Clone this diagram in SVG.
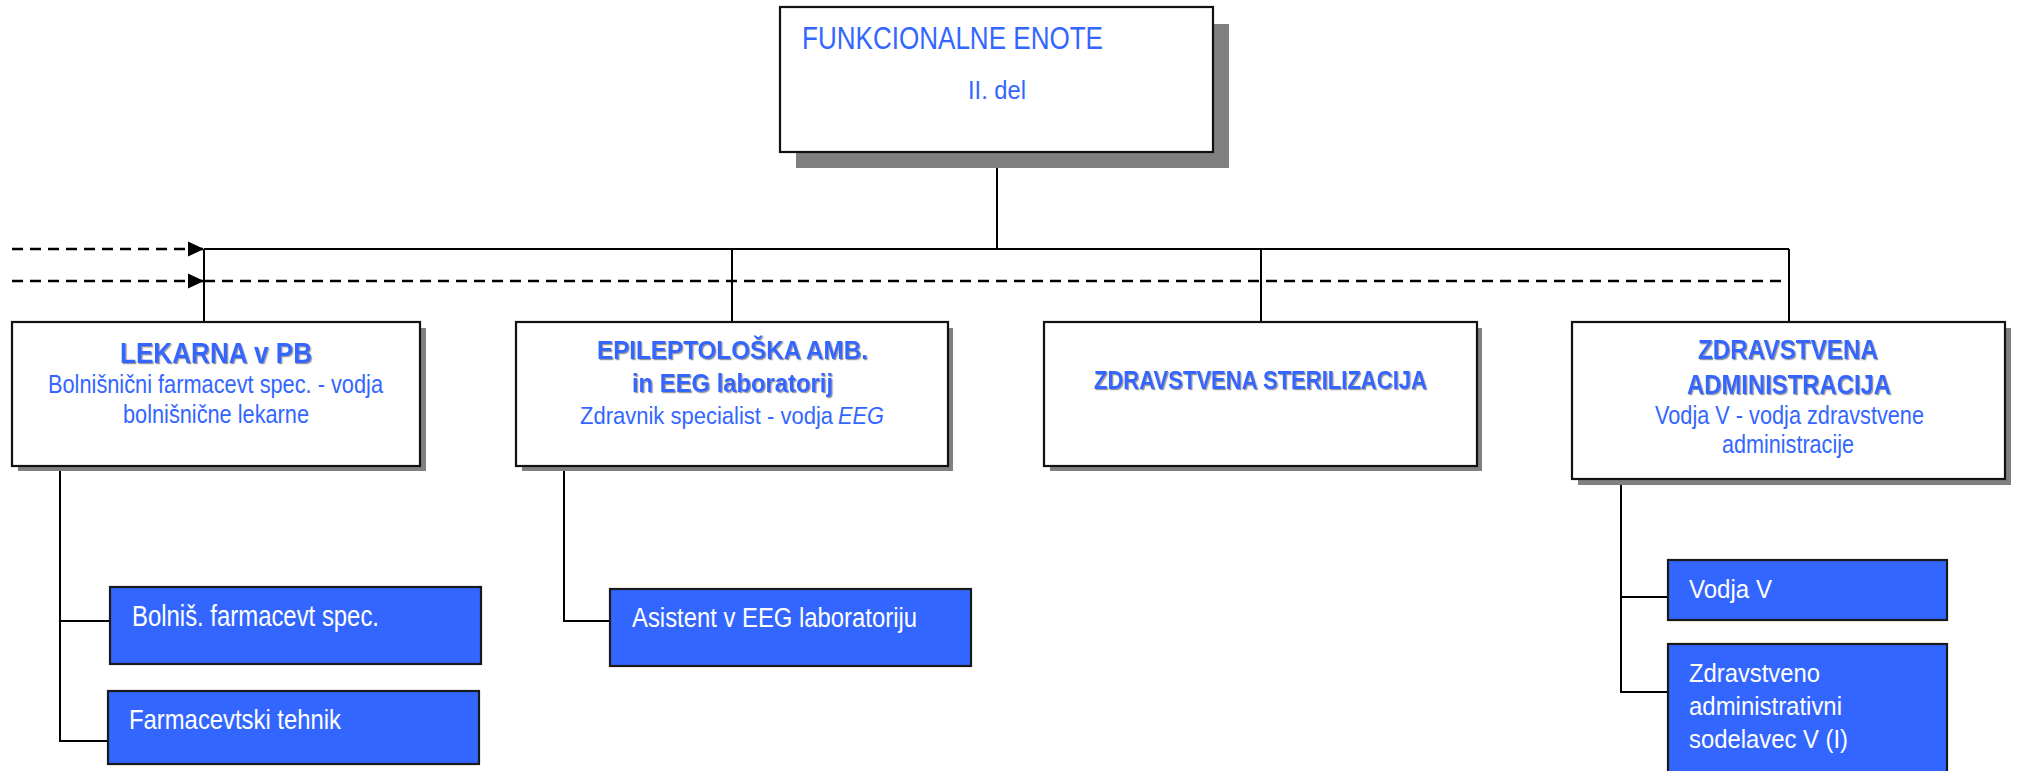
<svg xmlns="http://www.w3.org/2000/svg" width="2018" height="771" viewBox="0 0 2018 771">
<style>
  text { font-family: "Liberation Sans", Arial, sans-serif; }
  .box { fill: #ffffff; stroke: #111111; stroke-width: 2.2; }
  .shadow { fill: #808080; }
  .bbox { fill: #3366ff; stroke: #1a1a1a; stroke-width: 2.2; }
  .ttl { fill: #3366ff; font-weight: bold; filter: url(#ts); }
  .sub { fill: #3366ff; }
  .wt { fill: #ffffff; }
  .ln { stroke: #000000; stroke-width: 2; fill: none; }
  .dash { stroke: #000000; stroke-width: 2.4; fill: none; stroke-dasharray: 11 7; }
</style>
<defs>
  <marker id="arr" markerUnits="userSpaceOnUse" markerWidth="17" markerHeight="16" refX="16" refY="8" orient="auto">
    <path d="M0,0.5 L16,8 L0,15.5 Z" fill="#000000"/>
  </marker>
  <filter id="ts" x="0" y="0" width="1.02" height="1.06">
    <feDropShadow dx="1.2" dy="1.2" stdDeviation="0.2" flood-color="#9a9a9a" flood-opacity="1"/>
  </filter>
</defs>

<g id="connectors">
  <line class="ln" x1="997" y1="152" x2="997" y2="249"/>
  <line class="ln" x1="204" y1="249" x2="1789" y2="249"/>
  <line class="ln" x1="204" y1="249" x2="204" y2="322"/>
  <line class="ln" x1="732" y1="249" x2="732" y2="322"/>
  <line class="ln" x1="1261" y1="249" x2="1261" y2="322"/>
  <line class="ln" x1="1789" y1="249" x2="1789" y2="322"/>
  <line class="dash" x1="204" y1="281" x2="1789" y2="281"/>
  <line class="dash" x1="12" y1="249" x2="204" y2="249" marker-end="url(#arr)"/>
  <line class="dash" x1="12" y1="281" x2="204" y2="281" marker-end="url(#arr)"/>
  <path class="ln" d="M60,466 L60,741 L109,741 M60,621 L109,621"/>
  <path class="ln" d="M564,466 L564,621 L611,621"/>
  <path class="ln" d="M1621,466 L1621,692 L1668,692 M1621,597 L1668,597"/>
</g>

<g id="node-top">
  <rect class="shadow" x="796" y="24" width="433" height="144"/>
  <rect class="box" x="780" y="7" width="433" height="145"/>
  <text class="sub" x="802" y="49" font-size="31" textLength="301" lengthAdjust="spacingAndGlyphs">FUNKCIONALNE ENOTE</text>
  <text class="sub" x="968" y="99" font-size="25" textLength="58" lengthAdjust="spacingAndGlyphs">II. del</text>
</g>

<g id="node-lekarna">
  <rect class="shadow" x="18" y="328" width="408" height="143"/>
  <rect class="box" x="12" y="322" width="408" height="144"/>
  <text class="ttl" x="120" y="363" font-size="30" textLength="192" lengthAdjust="spacingAndGlyphs">LEKARNA v PB</text>
  <text class="sub" x="48" y="393" font-size="26" textLength="335" lengthAdjust="spacingAndGlyphs">Bolnišnični farmacevt spec. - vodja</text>
  <text class="sub" x="123" y="423" font-size="26" textLength="186" lengthAdjust="spacingAndGlyphs">bolnišnične lekarne</text>
</g>

<g id="node-eeg">
  <rect class="shadow" x="522" y="328" width="431" height="143"/>
  <rect class="box" x="516" y="322" width="432" height="144"/>
  <text class="ttl" x="597" y="359" font-size="26.5" textLength="271" lengthAdjust="spacingAndGlyphs">EPILEPTOLOŠKA AMB.</text>
  <text class="ttl" x="632" y="392" font-size="26.5" textLength="201" lengthAdjust="spacingAndGlyphs">in EEG laboratorij</text>
  <text class="sub" font-size="24" transform="translate(580 424) scale(0.917 1)">Zdravnik specialist - vodja</text>
  <text class="sub" font-size="24" font-style="italic" transform="translate(838 424) scale(0.907 1)">EEG</text>
</g>

<g id="node-sterilizacija">
  <rect class="shadow" x="1050" y="328" width="432" height="143"/>
  <rect class="box" x="1044" y="322" width="433" height="144"/>
  <text class="ttl" x="1094" y="389" font-size="26" textLength="333" lengthAdjust="spacingAndGlyphs">ZDRAVSTVENA STERILIZACIJA</text>
</g>

<g id="node-administracija">
  <rect class="shadow" x="1578" y="328" width="433" height="157"/>
  <rect class="box" x="1572" y="322" width="433" height="157"/>
  <text class="ttl" x="1698" y="359" font-size="27" textLength="180" lengthAdjust="spacingAndGlyphs">ZDRAVSTVENA</text>
  <text class="ttl" x="1687" y="394" font-size="28" textLength="204" lengthAdjust="spacingAndGlyphs">ADMINISTRACIJA</text>
  <text class="sub" x="1655" y="424" font-size="25.5" textLength="269" lengthAdjust="spacingAndGlyphs">Vodja V - vodja zdravstvene</text>
  <text class="sub" x="1722" y="453" font-size="25.5" textLength="132" lengthAdjust="spacingAndGlyphs">administracije</text>
</g>

<g id="node-bolnis">
  <rect class="bbox" x="110" y="587" width="371" height="77"/>
  <text class="wt" x="132" y="626" font-size="29" textLength="247" lengthAdjust="spacingAndGlyphs">Bolniš. farmacevt spec.</text>
</g>

<g id="node-tehnik">
  <rect class="bbox" x="108" y="691" width="371" height="73"/>
  <text class="wt" x="129" y="729" font-size="28" textLength="212" lengthAdjust="spacingAndGlyphs">Farmacevtski tehnik</text>
</g>

<g id="node-asistent">
  <rect class="bbox" x="610" y="589" width="361" height="77"/>
  <text class="wt" x="632" y="627" font-size="27" textLength="285" lengthAdjust="spacingAndGlyphs">Asistent v EEG laboratoriju</text>
</g>

<g id="node-vodjav">
  <rect class="bbox" x="1668" y="560" width="279" height="60"/>
  <text class="wt" x="1689" y="598" font-size="26.5" textLength="83" lengthAdjust="spacingAndGlyphs">Vodja V</text>
</g>

<g id="node-sodelavec">
  <rect class="bbox" x="1668" y="644" width="279" height="135"/>
  <text class="wt" x="1689" y="682" font-size="26.5" textLength="131" lengthAdjust="spacingAndGlyphs">Zdravstveno</text>
  <text class="wt" x="1689" y="715" font-size="26.5" textLength="153" lengthAdjust="spacingAndGlyphs">administrativni</text>
  <text class="wt" x="1689" y="748" font-size="26.5" textLength="159" lengthAdjust="spacingAndGlyphs">sodelavec V (I)</text>
</g>
</svg>
